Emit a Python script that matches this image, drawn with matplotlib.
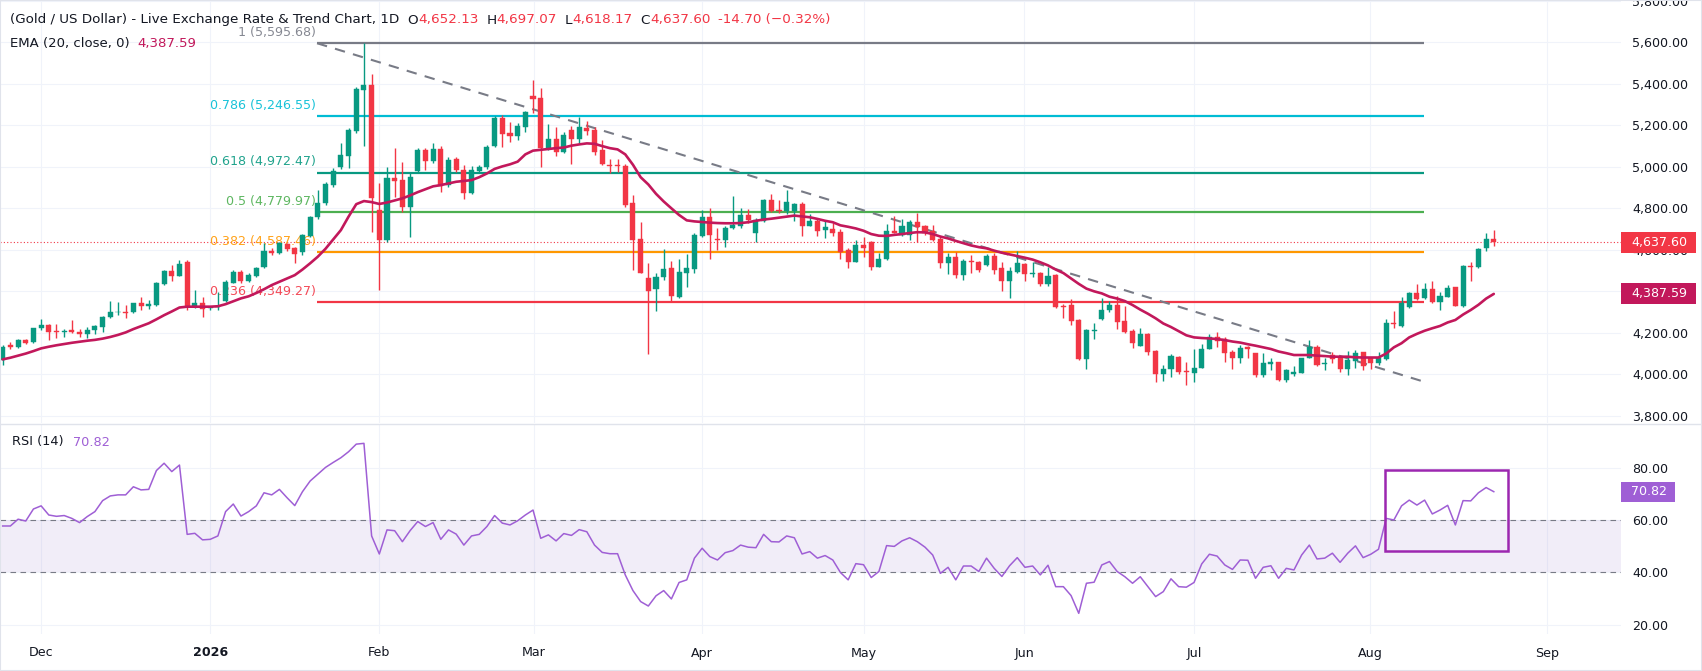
import numpy as np
import matplotlib
matplotlib.use("Agg")
import matplotlib.pyplot as plt
import matplotlib.transforms as mtransforms
from matplotlib.patches import Rectangle
from matplotlib.lines import Line2D

plt.rcParams['font.family'] = ['DejaVu Sans']

# ---------------- data ----------------
opens = [4069,4140,4134,4165,4157,4222,4238,4210,4205,4212,4205,4192,4212,4226,4275,4298,4300,4300,4342,4331,
         4334,4435,4498,4475,4540,4326,4342,4318,4325,4353,4442,4495,4451,4475,4519,4594,4583,4628,4607,4590,
         4668,4756,4824,4912,5000,5054,5174,5370,5394,4792,4647,4944,4936,4808,4981,5081,5028,5084,4912,5036,
         4985,4875,4981,4997,5100,5234,5165,5149,5194,5341,5330,5084,5133,5073,5178,5134,5186,5178,5081,5008,
         5009,5004,4824,4652,4462,4413,4470,4511,4374,4490,4507,4668,4758,4650,4647,4705,4716,4768,4683,4739,
         4840,4792,4789,4789,4821,4716,4740,4695,4700,4684,4599,4543,4623,4636,4519,4556,4691,4671,4671,4732,
         4715,4692,4652,4538,4564,4480,4548,4540,4527,4570,4514,4451,4495,4532,4482,4490,4434,4478,4330,4334,
         4261,4072,4210,4265,4310,4334,4258,4208,4138,4194,4112,4000,4028,4085,4016,4008,4032,4122,4178,4170,
         4106,4077,4130,4101,3996,4049,4057,3972,4000,4008,4080,4133,4050,4093,4080,4025,4065,4106,4080,4053,
         4073,4248,4234,4323,4390,4369,4409,4347,4374,4419,4331,4522,4519,4607,4652.13]
highs = [4141,4158,4172,4170,4225,4265,4242,4243,4218,4262,4218,4226,4238,4283,4353,4350,4334,4346,4374,4358,
         4443,4503,4527,4551,4551,4406,4371,4330,4398,4455,4503,4503,4490,4518,4631,4607,4640,4635,4612,4678,
         4765,4888,4928,4993,5113,5185,5386,5595.68,5447,4920,5001,5092,5025,4968,5089,5089,5116,5100,5049,5049,
         5009,5004,5009,5105,5245,5250,5218,5210,5270,5419,5378,5206,5194,5170,5197,5242,5221,5194,5129,5036,
         5039,5014,4864,4732,4535,4486,4602,4546,4554,4580,4683,4792,4803,4703,4716,4859,4803,4797,4752,4845,
         4869,4840,4888,4824,4832,4771,4748,4739,4727,4699,4607,4647,4660,4642,4586,4724,4764,4748,4744,4776,
         4720,4720,4668,4583,4591,4554,4575,4546,4580,4583,4540,4519,4594,4538,4540,4495,4515,4482,4339,4361,
         4266,4218,4245,4366,4353,4379,4329,4217,4221,4197,4117,4045,4098,4088,4061,4120,4144,4193,4202,4178,
         4117,4141,4136,4104,4101,4081,4061,4025,4040,4081,4165,4141,4077,4109,4085,4114,4117,4109,4085,4106,
         4266,4305,4371,4398,4435,4441,4449,4396,4432,4422,4527,4540,4610,4683,4697.07]
lows = [4045,4122,4125,4148,4150,4215,4165,4175,4180,4198,4180,4175,4195,4206,4270,4286,4270,4296,4310,4313,
        4330,4430,4450,4474,4310,4322,4278,4312,4312,4350,4438,4440,4445,4468,4512,4573,4578,4595,4535,4575,
        4660,4750,4815,4905,4990,4993,5161,5100,4687,4406,4640,4856,4784,4660,4976,4985,5020,4880,4904,4976,
        4843,4870,4976,4990,5095,5097,5121,5129,5170,5261,5001,5081,5052,5065,5014,5116,5153,5057,5009,4969,
        4977,4808,4503,4486,4098,4307,4454,4355,4370,4422,4486,4663,4556,4599,4612,4700,4703,4731,4639,4736,
        4784,4776,4771,4740,4668,4715,4668,4658,4668,4556,4514,4540,4564,4503,4516,4551,4679,4668,4647,4636,
        4671,4644,4514,4482,4466,4454,4490,4495,4523,4483,4401,4369,4490,4451,4467,4427,4425,4318,4273,4237,
        4068,4025,4170,4262,4302,4218,4200,4125,4136,4093,3964,3969,3985,4001,3947,3964,4029,4120,4133,4061,
        4024,4056,4077,3988,3988,4020,3968,3964,3993,4004,4077,4041,4020,4053,4012,3999,4032,4020,4024,4045,
        4069,4225,4229,4318,4358,4363,4342,4310,4371,4329,4326,4451,4510,4596,4618.17]
closes = [4133,4134,4165,4153,4222,4238,4206,4204,4208,4203,4192,4214,4233,4278,4300,4302,4296,4342,4331,4337,
          4438,4498,4475,4532,4326,4342,4313,4325,4330,4446,4495,4452,4478,4510,4594,4586,4631,4602,4580,4671,
          4760,4827,4917,4980,5057,5177,5373,5394,4848,4647,4944,4933,4808,4952,5081,5028,5084,4907,5033,4985,
          4875,4985,4997,5097,5234,5158,5149,5197,5263,5327,5092,5133,5073,5153,5134,5194,5173,5073,5014,5002,
          5005,4816,4647,4490,4403,4467,4506,4379,4493,4512,4673,4760,4673,4647,4705,4720,4768,4744,4744,4840,
          4789,4787,4829,4821,4716,4739,4692,4708,4679,4591,4543,4623,4610,4519,4556,4691,4683,4715,4732,4711,
          4679,4647,4538,4564,4480,4546,4542,4503,4570,4503,4451,4498,4538,4482,4490,4434,4474,4326,4324,4258,
          4072,4213,4216,4310,4334,4254,4205,4152,4194,4109,4000,4024,4088,4012,4012,4030,4122,4178,4160,4104,
          4077,4128,4122,3996,4053,4059,3972,4020,4009,4077,4133,4045,4053,4073,4025,4069,4101,4040,4053,4081,
          4245,4242,4345,4390,4363,4409,4347,4377,4414,4331,4522,4516,4602,4652.3,4637.60]
ema20 = [4072,4080,4090,4100,4112,4125,4133,4140,4146,4152,4157,4162,4166,4172,4180,4190,4202,4218,4232,4246,
         4265,4285,4303,4322,4326,4326,4326,4326,4328,4338,4352,4366,4376,4392,4410,4430,4446,4462,4478,4505,
         4535,4567,4605,4650,4695,4760,4820,4835,4830,4821,4828,4838,4848,4862,4878,4892,4906,4912,4920,4928,
         4932,4936,4950,4968,4990,5002,5012,5025,5060,5078,5082,5086,5090,5093,5102,5108,5113,5111,5100,5090,
         5084,5060,5010,4950,4915,4870,4833,4800,4768,4742,4737,4734,4731,4729,4728,4728,4729,4733,4740,4746,
         4750,4755,4760,4765,4761,4757,4749,4740,4733,4718,4711,4703,4692,4676,4668,4667,4672,4676,4681,4685,
         4684,4676,4664,4655,4643,4632,4621,4613,4607,4596,4586,4578,4570,4562,4553,4540,4525,4505,4488,4462,
         4436,4413,4400,4390,4374,4365,4353,4334,4312,4292,4270,4245,4228,4208,4188,4178,4175,4173,4170,4165,
         4158,4153,4145,4138,4130,4122,4110,4102,4093,4093,4093,4090,4088,4085,4085,4085,4082,4081,4081,4081,
         4100,4130,4150,4178,4195,4210,4222,4233,4250,4262,4288,4310,4335,4365,4387.59]
rsi14 = [57.7,57.7,60.3,59.6,64.2,65.4,61.9,61.4,61.7,60.6,59.0,61.3,63.2,67.4,69.2,69.6,69.6,72.7,71.5,71.7,
         78.9,81.7,78.5,81.0,54.5,54.9,52.4,52.6,53.9,63.2,66.1,61.5,63.2,65.4,70.4,69.6,71.7,68.5,65.5,70.8,
         74.9,77.5,80.1,82.0,83.8,86.1,89.0,89.3,53.9,47.0,56.2,55.9,51.7,55.9,59.4,57.5,59.0,52.6,56.2,54.6,
         50.4,53.9,54.5,57.5,61.7,58.8,58.1,59.7,61.9,63.8,53.0,54.3,52.0,54.8,54.1,56.3,55.5,50.4,47.6,47.1,
         47.1,39.0,33.0,28.8,27.1,31.0,33.0,29.8,36.1,37.1,45.4,49.2,46.0,44.7,47.5,48.3,50.4,49.6,49.4,54.5,
         51.7,51.6,53.9,53.2,47.0,47.9,45.4,46.4,44.7,39.9,37.1,43.3,42.9,38.0,40.3,50.2,49.9,52.0,53.2,51.7,
         49.6,46.6,39.6,41.9,37.1,42.4,42.4,40.3,45.4,41.5,38.4,42.5,45.6,41.9,42.4,39.0,42.7,34.5,34.5,31.1,
         24.3,35.8,36.2,42.8,44.1,40.3,38.3,35.8,38.3,34.5,30.7,32.6,37.5,34.5,34.3,36.1,43.2,46.9,46.2,42.8,
         41.1,44.7,44.6,37.7,41.9,42.5,37.7,41.5,40.9,46.6,50.4,45.1,45.4,47.3,43.8,47.3,50.1,45.6,46.9,48.8,
         60.6,60.0,65.4,67.6,65.7,67.6,62.3,63.8,65.6,58.1,67.4,67.3,70.4,72.4,70.82]

month_labels = ['Dec', '2026', 'Feb', 'Mar', 'Apr', 'May', 'Jun', 'Jul', 'Aug', 'Sep']
month_pos = [5.0, 27.0, 49.0, 69.1, 91.0, 112.0, 132.9, 155.0, 177.9, 200.9]

fib_ratios = ['1', '0.786', '0.618', '0.5', '0.382', '0.236']
fib_levels = [5595.68, 5246.55, 4972.47, 4779.97, 4587.46, 4349.27]
fib_colors = ['#787b86', '#00bcd4', '#089981', '#4caf50', '#ff9800', '#f23645']
fib_span = [40.9, 184.9]
trend_x = [40.9, 184.6]
trend_y = [5595.68, 3968.0]
rsi_box = [179.8, 195.9, 48.2, 79.1]

last_open, last_high, last_low, last_close = 4652.13, 4697.07, 4618.17, 4637.60
change, change_pct = -14.70, -0.32
ema_last = 4387.59
rsi_last = 70.82

# ---------------- layout ----------------
W, H = 1702, 671
UP, DOWN = '#089981', '#f23645'
TXT = '#131722'
GRID = '#f0f3fa'
FS = 9.1

fig = plt.figure(figsize=(W / 100, H / 100), dpi=100)
fig.patch.set_facecolor('white')

plot_w = 1621
axp = fig.add_axes([0, 1 - 423 / H, plot_w / W, 423 / H])
axr = fig.add_axes([0, 1 - 634 / H, plot_w / W, (634 - 424) / H])

xlim = (-0.35, 210.55)
n = len(closes)
x = np.arange(n)
o = np.array(opens, float); h = np.array(highs, float)
l = np.array(lows, float); c = np.array(closes, float)
col = np.where(c >= o, UP, DOWN)

for ax in (axp, axr):
    ax.set_xlim(*xlim)
    for s in ax.spines.values():
        s.set_visible(False)
    ax.set_xticks(month_pos)
    ax.grid(True, color=GRID, lw=0.8, zorder=0)
    ax.set_axisbelow(True)
    ax.yaxis.tick_right()
    ax.tick_params(axis='both', length=0, labelsize=FS, labelcolor=TXT)
    ax.tick_params(axis='y', pad=8)

# price panel
axp.set_ylim(3765.4, 5804)
axp.set_yticks(np.arange(3800, 5801, 200))
axp.set_yticklabels([f'{v:,.2f}' for v in np.arange(3800, 5801, 200)])
axp.set_xticklabels([])

axp.axhline(last_close, color=DOWN, lw=0.8, ls=(0, (1, 2)), zorder=1)

# fib levels
for r, lv, fc in zip(fib_ratios, fib_levels, fib_colors):
    axp.hlines(lv, fib_span[0], fib_span[1], color=fc, lw=1.6, zorder=2)
    axp.annotate(f'{r} ({lv:,.2f})', xy=(fib_span[0], lv), xytext=(-1, 3),
                 textcoords='offset points', ha='right', va='bottom',
                 color=fc, fontsize=FS, zorder=1, alpha=0.9)

# trend line
axp.plot(trend_x, trend_y, color='#787b86', lw=1.5, ls=(0, (5, 4)), zorder=2)

# candles
axp.vlines(x, l, h, color=col, lw=1.0, zorder=3)
body_lo = np.minimum(o, c)
body_h = np.maximum(np.abs(c - o), 3.0)
axp.bar(x, body_h, bottom=body_lo, width=0.66, color=col, edgecolor=col, lw=0.3, zorder=3)

# EMA
axp.plot(x, ema20, color='#c2185b', lw=1.9, zorder=4, solid_capstyle='round')

# price labels on scale
bt = mtransforms.blended_transform_factory(axp.transAxes, axp.transData)
half = 10.5 * (5804 - 3765.4) / 423
for val, fc in ((last_close, '#f23645'), (ema_last, '#c2185b')):
    axp.add_patch(Rectangle((1.0, val - half), 75 / plot_w, 2 * half, transform=bt,
                            clip_on=False, facecolor=fc, edgecolor='none', zorder=10))
    axp.text(1 + 10 / plot_w, val, f'{val:,.2f}', transform=bt, color='white',
             fontsize=FS, ha='left', va='center', zorder=11, clip_on=False)

# RSI panel
RSI_C = '#9f5fd5'
axr.set_ylim(16.4, 96.7)
axr.set_yticks([20, 40, 60, 80])
axr.set_yticklabels(['20.00', '40.00', '60.00', '80.00'])
axr.set_xticklabels(month_labels)
axr.tick_params(axis='x', pad=9)
for t in axr.get_xticklabels():
    if t.get_text() == '2026':
        t.set_fontweight('bold')
axr.axhspan(40, 60, color='#7e57c2', alpha=0.1, lw=0, zorder=1)
for lv in (60, 40):
    axr.axhline(lv, color='#787b86', lw=0.8, ls=(0, (5, 4)), zorder=2)
axr.plot(x, rsi14, color=RSI_C, lw=1.1, zorder=3)
axr.add_patch(Rectangle((rsi_box[0], rsi_box[2]), rsi_box[1] - rsi_box[0],
                        rsi_box[3] - rsi_box[2], fill=False, edgecolor='#9c27b0',
                        lw=1.8, zorder=4))
bt2 = mtransforms.blended_transform_factory(axr.transAxes, axr.transData)
rh = 10 * (96.7 - 16.4) / 210
axr.add_patch(Rectangle((1.0, rsi_last - rh), 54 / plot_w, 2 * rh, transform=bt2,
                        clip_on=False, facecolor=RSI_C, edgecolor='none', zorder=10))
axr.text(1 + 10 / plot_w, rsi_last, f'{rsi_last:.2f}', transform=bt2, color='white',
         fontsize=FS, ha='left', va='center', zorder=11, clip_on=False)

# legends (multi-colour text)
fig.canvas.draw()
rend = fig.canvas.get_renderer()


def pieces(x_px, y_px, parts, size):
    xp = x_px
    for s, colr, gap in parts:
        t = fig.text(xp / W, 1 - y_px / H, s, color=colr, fontsize=size, ha='left', va='center')
        xp += t.get_window_extent(renderer=rend).width + gap


pieces(10, 20, [
    ('(Gold / US Dollar) - Live Exchange Rate & Trend Chart, 1D', TXT, 8),
    ('O', TXT, 0), (f'{last_open:,.2f}', DOWN, 8),
    ('H', TXT, 0), (f'{last_high:,.2f}', DOWN, 8),
    ('L', TXT, 0), (f'{last_low:,.2f}', DOWN, 8),
    ('C', TXT, 0), (f'{last_close:,.2f}', DOWN, 8),
    (f'{change:.2f} (\u2212{abs(change_pct):.2f}%)', DOWN, 0),
], 9.7)
pieces(10, 43, [('EMA (20, close, 0)', TXT, 8), (f'{ema_last:,.2f}', '#c2185b', 0)], 9.5)
pieces(12, 442, [('RSI (14)', TXT, 9), (f'{rsi_last:.2f}', RSI_C, 0)], 9.3)

# separator and frame
fig.add_artist(Line2D([0, 1], [1 - 423.5 / H] * 2, transform=fig.transFigure,
                      color='#e0e3eb', lw=1))
fig.add_artist(Rectangle((0, 0), 1, 1, transform=fig.transFigure, fill=False,
                         edgecolor='#e0e3eb', lw=1.5))

fig.savefig('out.png', dpi=100, facecolor='white')
